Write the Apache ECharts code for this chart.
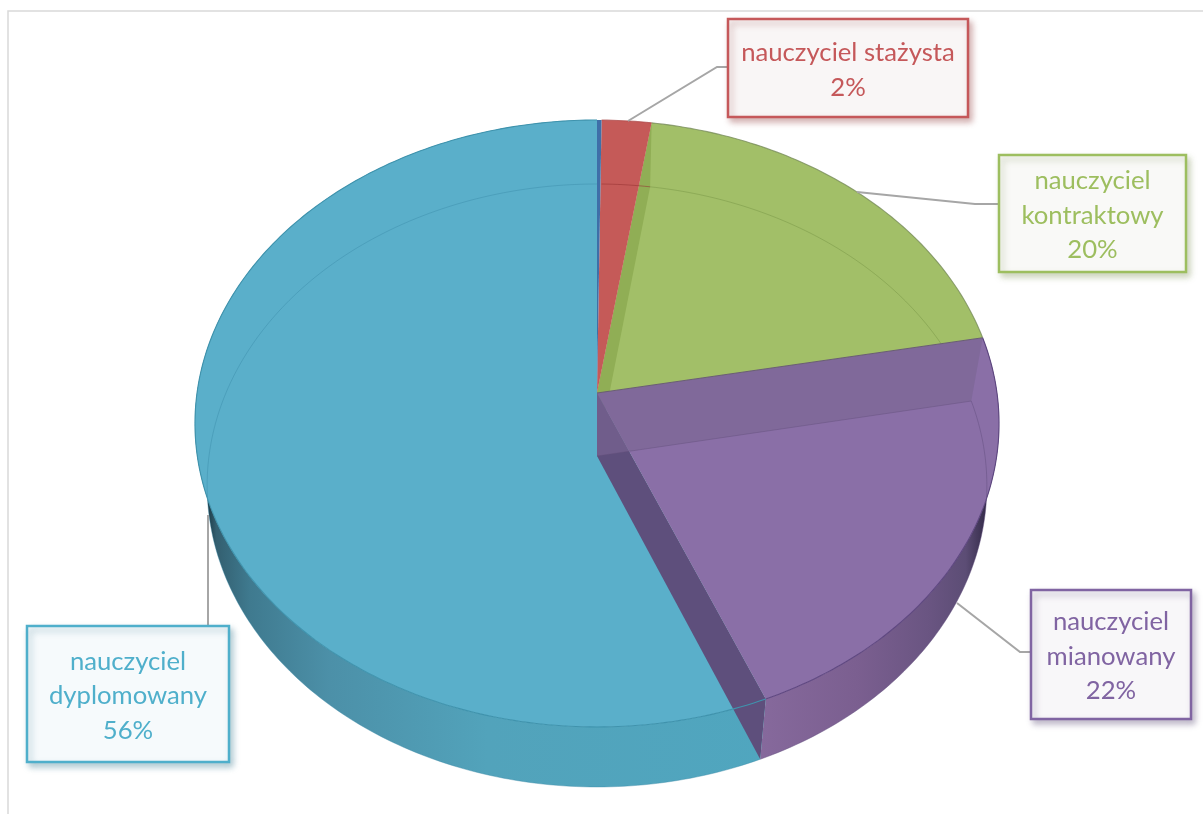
<!DOCTYPE html>
<html>
<head>
<meta charset="utf-8">
<style>html,body{margin:0;padding:0;background:#fff}#c{width:1203px;height:814px}</style>
<script src="https://cdn.jsdelivr.net/npm/echarts@6/dist/echarts.min.js"></script>
</head>
<body>
<div id="c"></div>
<script>
// ---- data (share of teachers, read from the slice boundaries)
const categories = ['nauczyciel stażysta', 'nauczyciel kontraktowy', 'nauczyciel mianowany', 'nauczyciel dyplomowany'];
const values = [2.2, 19.6, 21.75, 56.25];
const hairlineSliceValue = 0.2;   // thin unlabelled slice at 12 o'clock

// ---- styles and layout
const sliceColors = ['#C55A58', '#A2BF68', '#8A6FA7', '#5AAFCA'];
const labelColors = ['#C5585A', '#9DBE5F', '#8064A2', '#4FAFCB'];
const boxFills = ['#F9F6F6', '#F9F9F7', '#F8F7F9', '#F6FAFC'];
const boxShadows = ['rgba(150,70,70,.4)', 'rgba(120,140,80,.35)', 'rgba(100,85,125,.4)', 'rgba(70,130,150,.4)'];
const boxes = [[728, 19, 240, 98], [999, 155, 187, 117], [1031, 590, 160, 129], [27, 626, 202, 136]];
const leaders = [
  [[628, 121], [717, 67], [728, 67]],
  [[857, 192], [975, 204], [999, 204]],
  [[957, 603], [1020, 652], [1031, 652]],
  [[208, 515], [208, 626]]
];
const topDisc = {cx: 597, cy: 393, a: 400, b: 300.4, k: 0.1005};
const botDisc = {cx: 597, cy: 456, a: 388, b: 298.6, k: 0.0978};

function project(d, pct) {
  const t = pct / 100 * 2 * Math.PI, u = Math.sin(t), v = -Math.cos(t), w = 1 - d.k * v;
  return [d.cx + d.a * u / w, d.cy + d.b * v / w];
}
function arc(d, from, to) {
  const n = Math.max(2, Math.ceil((to - from) * 4)), pts = [];
  for (let i = 0; i <= n; i++) pts.push(project(d, from + (to - from) * i / n));
  return pts;
}
function apex(d) { return [d.cx, d.cy]; }
function poly(points, style, z2) { return {type: 'polygon', shape: {points}, style, z2, silent: true}; }
function line(points, stroke, width, z2) {
  return {type: 'polyline', shape: {points}, style: {stroke, lineWidth: width, fill: 'none'}, z2, silent: true};
}

const G = echarts.graphic.LinearGradient;
const blueRim = new G(205, 0, 770, 0, [
  {offset: 0, color: '#16303b'}, {offset: 0.02, color: '#335f70'}, {offset: 0.08, color: '#3f7a8f'},
  {offset: 0.22, color: '#4c90a8'}, {offset: 0.5, color: '#52a3bb'}, {offset: 1, color: '#50a6bf'}], true);
const purpleRim = new G(761, 0, 999, 0, [
  {offset: 0, color: '#86699c'}, {offset: 0.4, color: '#7b5f90'}, {offset: 0.7, color: '#6a5582'},
  {offset: 0.86, color: '#5c4d75'}, {offset: 0.95, color: '#332a48'}, {offset: 1, color: '#15101f'}], true);

const zTop = [12, 10, 15, 14];
const zInner = [12.5, 11.5, 18, 18];
const innerLine = ['rgba(150,50,50,.55)', 'rgba(120,150,70,.5)', 'rgba(95,75,125,.45)', 'rgba(55,135,165,.4)'];
const rimLine = ['rgba(170,70,70,.7)', 'rgba(115,135,85,.75)', '#5E4780', '#3F93AD'];
const boundaries = [hairlineSliceValue];
values.forEach(v => boundaries.push(boundaries[boundaries.length - 1] + v));

function renderItem(params, api) {
  const i = params.dataIndex, v = api.value(0);
  const from = boundaries[i], to = from + v;
  const c = sliceColors[i];
  const topPts = arc(topDisc, from, to), botPts = arc(botDisc, from, to);
  const T = apex(topDisc), B = apex(botDisc);
  const kids = [];

  // top face
  kids.push(poly([T].concat(topPts), {fill: c}, zTop[i]));

  // outer side wall
  if (i === 2 || i === 3) {
    kids.push(poly(topPts.concat(botPts.slice().reverse()), {fill: i === 2 ? purpleRim : blueRim}, 2));
  }
  // side faces seen through the top
  if (i === 1) {
    kids.push(poly([T, topPts[0], botPts[0], B], {fill: '#90AE55'}, 11));
  }
  if (i === 2) {
    kids.push(poly([T, B, botPts[botPts.length - 1], topPts[topPts.length - 1]], {fill: '#5E4F7C'}, 16));
    kids.push(poly([T, topPts[0], botPts[0], B], {fill: 'rgba(122,101,147,.64)'}, 17));
    kids.push(line([T, topPts[0]], '#6A6070', 1.2, 20));
    kids.push(line([botPts[0], B], 'rgba(100,80,125,.45)', 1, 18));
  }
  if (i === 3) {
    kids.push(poly([T].concat(arc(topDisc, 0, hairlineSliceValue)), {fill: '#3F6FA8'}, 13));
    kids.push(line([project(topDisc, 0), project(botDisc, 0)], '#3F6FA8', 1.5, 13));
  }

  // faint far-disc edge and rim lines
  kids.push(line(botPts, innerLine[i], 1, zInner[i]));
  kids.push(line(topPts, rimLine[i], 1.1, 19));

  // leader
  kids.push(line(leaders[i], '#A6A6A6', 2, 30));

  // label box
  const b = boxes[i];
  kids.push({type: 'rect', shape: {x: b[0], y: b[1], width: b[2], height: b[3]}, z2: 31, silent: true,
    style: {fill: boxFills[i], stroke: labelColors[i], lineWidth: 2.5, shadowBlur: 6, shadowOffsetX: 3, shadowOffsetY: 4, shadowColor: boxShadows[i]}});
  const parts = i === 0 ? [categories[i]] : categories[i].split(' ');
  kids.push({type: 'text', z2: 32, silent: true,
    style: {x: b[0] + b[2] / 2, y: b[1] + b[3] / 2 + 2, align: 'center', verticalAlign: 'middle',
      text: parts.concat(Math.round(v) + '%').join('\n'), fill: labelColors[i],
      font: '25.7px Lato, "Open Sans", sans-serif', lineHeight: 34.5}});
  return {type: 'group', children: kids};
}

const chart = echarts.init(document.getElementById('c'), null, {renderer: 'canvas'});
chart.setOption({
  animation: false,
  backgroundColor: '#fff',
  graphic: [
    {type: 'polyline', shape: {points: [[8, 814], [8, 11], [1203, 11]]}, style: {stroke: '#D9D9D9', lineWidth: 1.5, fill: 'none'}, silent: true}
  ],
  series: [{
    type: 'custom',
    coordinateSystem: 'none',
    renderItem,
    clip: false,
    data: values.map((v, i) => ({name: categories[i], value: [v]}))
  }]
});
</script>
</body>
</html>
